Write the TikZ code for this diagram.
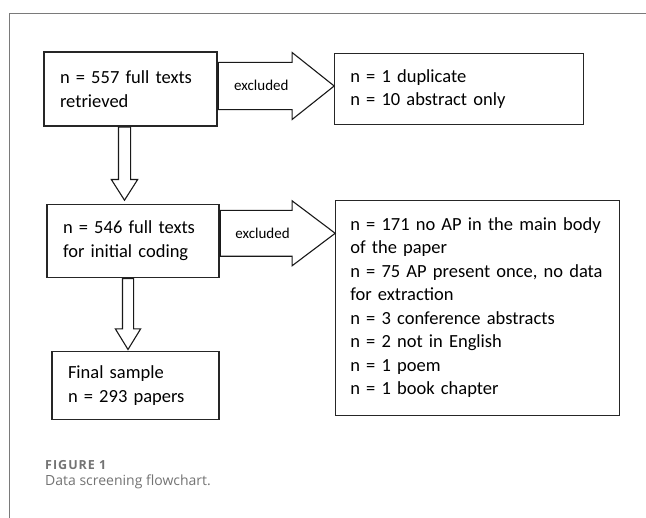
\documentclass[tikz,border=0pt]{standalone}
\usepackage{fontspec}
\setmainfont{Carlito}
\newfontfamily\capfont{Open Sans}
\newfontfamily\figfont[LetterSpace=8]{Open Sans}
\usetikzlibrary{shapes.arrows, positioning}
\definecolor{framegray}{HTML}{7A7A7A}
\definecolor{capgray}{HTML}{737373}
\tikzstyle{box} = [rectangle, draw=black!85, line width=1.3pt, align=left, inner xsep=16pt, font=\fontsize{18.5}{23.5}\selectfont]
\tikzstyle{fat} = [single arrow, draw=black!90, line width=1.1pt, fill=white, anchor=tail]
\tikzstyle{exclbl} = [font=\fontsize{15}{18}\selectfont, text height=10pt, text depth=0pt, inner xsep=4pt, inner ysep=11.5pt]

\begin{document}
\begin{tikzpicture}[x=1pt, y=-1pt]
            \useasboundingbox (0,0) rectangle (646,518);
            \draw [framegray, line width=1pt] (646,13.5) -- (9.5,13.5) -- (9.5,518);

            \node (full) [box, text width=141pt, minimum height=74pt] at (130.5,89) {n = 557 full texts\\retrieved};
            \node (dupl) [box, text width=217pt, minimum height=71pt, right=116pt of full] {n = 1 duplicate\\n = 10 abstract only};
            \node (init) [box, text width=140pt, minimum height=73pt, below=77pt of full, xshift=2.5pt] {n = 546 full texts\\for initial coding};
            \node (excl) [box, text width=254pt, inner xsep=15pt, minimum height=215pt, right=115pt of init.north east, anchor=north west, yshift=4pt]
                {n = 171 no AP in the main body\\of the paper\\n = 75 AP present once, no data\\for extraction\\n = 3 conference abstracts\\n = 2 not in English\\n = 1 poem\\n = 1 book chapter};
            \node (final) [box, text width=135pt, minimum height=68pt, below=73pt of init, xshift=2.5pt] {Final sample\\n = 293 papers};

            % block arrows
            \node (ex1) [fat, exclbl, minimum height=116pt, minimum width=67pt, single arrow tip angle=77] at ([yshift=3pt]full.east) {excluded};
            \node (ex2) [fat, exclbl, minimum height=115pt, minimum width=65pt, single arrow tip angle=74] at ([yshift=7.5pt]init.east) {excluded};
            \node (down1) [fat, rotate=-90, inner sep=5.5pt, minimum height=73pt, minimum width=23pt, single arrow tip angle=65] at ([xshift=-6pt]full.south) {};
            \node (down2) [fat, rotate=-90, inner sep=5pt, minimum height=71pt, minimum width=22pt, single arrow tip angle=63] at ([xshift=-5pt]init.south) {};

            % caption
            \node (fignum) [anchor=base west, inner sep=0pt, text=capgray, font=\figfont\bfseries\fontsize{12.5}{14}\selectfont] at (45,470) {FIGURE 1};
            \node (figcap) [anchor=base west, inner sep=0pt, text=capgray, font=\capfont\fontsize{14}{16}\selectfont] at (45,485.5) {Data screening flowchart.};
\end{tikzpicture}
\end{document}
